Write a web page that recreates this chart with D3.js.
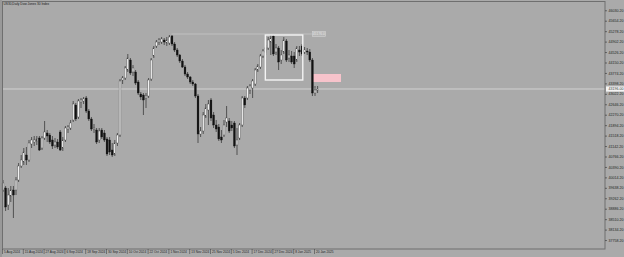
<!DOCTYPE html>
<html>
<head>
<meta charset="utf-8">
<script src="https://cdn.jsdelivr.net/npm/d3@7"></script>
<style>
  body { margin: 0; background: #aaaaaa; overflow: hidden; }
  svg { display: block; font-family: "Liberation Sans", Arial, sans-serif; }
</style>
</head>
<body>
<div id="chart"></div>
<script>
// Daily bars (index = bar number from the left)
var openPrices = [
  39560, 39632, 39020, 39344, 39560, 39560, 39920, 40424, 40568, 40820,
  40640, 41216, 41288, 41324, 41432, 41072, 41432, 41612, 41540, 41360,
  41180, 41288, 41648, 41072, 41360, 41756, 41792, 42080, 42620, 42188,
  42728, 42764, 42872, 42404, 42116, 41756, 41720, 41360, 41720, 41612,
  41396, 41360, 41000, 40856, 41252, 41540, 43520, 43592, 43880, 44240,
  43808, 43808, 43448, 43016, 42980, 42872, 42944, 43556, 44384, 44744,
  44888, 44888, 44960, 44852, 44852, 45104, 44816, 44600, 44420, 44204,
  43988, 43736, 43628, 43448, 43376, 42944, 41576, 41684, 42224, 42440,
  42800, 42260, 41900, 41828, 41468, 41540, 42008, 42044, 41900, 41972,
  41180, 41432, 41900, 42872, 42872, 43160, 43232, 43376, 43880, 43988,
  44384, 44528, 44672, 44888, 45104, 44528, 44672, 44240, 44528, 44924,
  44312, 44384, 44384, 44240, 44600, 44744, 44528, 44564, 44528, 44240,
  43052, 43160
];
var highPrices = [
  39920, 39704, 39632, 39704, 39704, 40028, 40532, 40820, 41072, 41108,
  41360, 41468, 41504, 41504, 41504, 41504, 42044, 41720, 41612, 41504,
  41432, 41396, 41720, 41468, 41864, 41900, 42080, 42764, 42692, 42836,
  42872, 42908, 42944, 42476, 42188, 41936, 41792, 41792, 41792, 41720,
  41468, 41468, 41252, 41360, 41612, 43556, 43664, 44024, 44456, 44312,
  44060, 43880, 43520, 43088, 43052, 43052, 43592, 44312, 44744, 44960,
  45032, 45068, 45032, 45068, 45140, 45140, 44888, 44672, 44456, 44276,
  44060, 43808, 43664, 43520, 43412, 43016, 41828, 42368, 42656, 42800,
  42872, 42368, 42080, 41936, 41720, 42080, 42584, 42152, 42044, 42044,
  41792, 41972, 42944, 42944, 43304, 43376, 43556, 43952, 44096, 44456,
  44636, 44780, 45068, 45140, 45140, 44816, 44744, 44600, 45068, 44996,
  44600, 44564, 44528, 44744, 44744, 44816, 44708, 44672, 44636, 44312,
  43304, 43304
];
var lowPrices = [
  39488, 38804, 38840, 39128, 38552, 39380, 39848, 40352, 40460, 40460,
  40568, 41072, 41144, 41180, 40964, 41000, 41360, 41288, 41216, 41036,
  41072, 41036, 40964, 40964, 41288, 41612, 41720, 42008, 42044, 42116,
  42512, 42656, 42332, 42044, 41684, 41612, 41216, 41252, 41396, 41288,
  40784, 40820, 40748, 40784, 41144, 41468, 43376, 43520, 43808, 43700,
  43664, 43340, 42980, 42800, 42260, 42512, 42872, 43484, 44312, 44672,
  44780, 44816, 44780, 44744, 44780, 44744, 44528, 44348, 44132, 43952,
  43664, 43556, 43376, 43304, 42872, 41252, 41468, 41576, 42152, 41900,
  42044, 41792, 41648, 41324, 41252, 41468, 41828, 41612, 41684, 41072,
  40820, 41360, 41828, 42512, 42800, 43016, 42872, 43304, 43808, 43916,
  44312, 44420, 44600, 44420, 44384, 44420, 43880, 44096, 44456, 44168,
  44168, 44096, 43952, 44168, 44384, 44384, 44456, 44420, 44168, 42944,
  42944, 43052
];
var closePrices = [
  39812, 38948, 39380, 39560, 39380, 39920, 40424, 40640, 40928, 40640,
  41252, 41360, 41360, 41396, 41000, 41432, 41648, 41504, 41288, 41144,
  41288, 41108, 41000, 41360, 41792, 41828, 41972, 42656, 42116, 42764,
  42800, 42836, 42404, 42116, 41756, 41792, 41288, 41684, 41468, 41360,
  40856, 40928, 40820, 41252, 41540, 43484, 43592, 43952, 44312, 43772,
  43952, 43412, 43052, 42908, 42800, 42944, 43520, 44240, 44672, 44888,
  44960, 44996, 44888, 44960, 45068, 44816, 44600, 44420, 44204, 43988,
  43736, 43628, 43448, 43376, 42944, 41576, 41684, 42260, 42512, 42656,
  42152, 41900, 41756, 41396, 41360, 41900, 42152, 41684, 41792, 41144,
  41360, 41900, 42872, 42620, 43232, 43304, 43484, 43880, 44024, 44384,
  44564, 44672, 44960, 45032, 44456, 44672, 44168, 44420, 44960, 44240,
  44420, 44168, 44096, 44672, 44528, 44456, 44600, 44528, 44240, 43052,
  43160, 43196
];

// Time axis labels, one every 8 bars
var timeLabels = [
  "5 Aug 2024", "15 Aug 2024", "27 Aug 2024", "6 Sep 2024", "18 Sep 2024",
  "30 Sep 2024", "10 Oct 2024", "22 Oct 2024", "1 Nov 2024", "13 Nov 2024",
  "25 Nov 2024", "5 Dec 2024", "17 Dec 2024", "27 Dec 2024", "8 Jan 2025",
  "20 Jan 2025"
];
var timeLabelStep = 8;

// Price axis labels
var priceTicks = [
  46030.2, 45654.2, 45278.2, 44902.2, 44526.2, 44150.2, 43774.2, 43398.2,
  43022.2, 42646.2, 42270.2, 41894.2, 41518.2, 41142.2, 40766.2, 40390.2,
  40014.2, 39638.2, 39262.2, 38886.2, 38510.2, 38134.2, 37758.2
];

var chartTitle = "US30,Daily  Dow Jones 30 Index";

// Objects drawn on the chart (bar numbers and prices)
var highLine = {fromBar: 64.8, toBar: 118.8, price: 45176};
var rangeBox = {fromBar: 100.9, toBar: 115.3, top: 45140, bottom: 43520};
var zone = {fromBar: 118.8, toBar: 130, top: 43736, bottom: 43448};

var width = 624,
    height = 257;
var plot = {left: 2, top: 2, right: 605, bottom: 249};

var svg = d3.select("#chart")
  .append("svg")
  .attr("width", width)
  .attr("height", height);

svg.append("rect")
  .attr("width", width)
  .attr("height", height)
  .attr("fill", "#aaaaaa");

// darker window edge on the left
svg.append("rect")
  .attr("x", 0).attr("y", 0)
  .attr("width", 2).attr("height", height)
  .attr("fill", "#999999");

var x = d3.scaleLinear()
  .domain([0, 231])
  .range([3, 603.6]);

var y = d3.scaleLinear()
  .domain([37436, 46328])
  .range([plot.bottom, plot.top]);

var bars = closePrices.map(function(c, i) {
  return {i: i, o: openPrices[i], h: highPrices[i], l: lowPrices[i], c: c};
});

// ****************** objects behind the bars ***************************

// pink zone
svg.append("rect")
  .attr("x", x(zone.fromBar))
  .attr("y", y(zone.top))
  .attr("width", x(zone.toBar) - x(zone.fromBar))
  .attr("height", y(zone.bottom) - y(zone.top))
  .attr("fill", "#f7c3cb");

// current price line
var lastPrice = closePrices[closePrices.length - 1];
svg.append("line")
  .attr("x1", plot.left).attr("x2", plot.right)
  .attr("y1", y(lastPrice)).attr("y2", y(lastPrice))
  .attr("stroke", "#d6d6d6")
  .attr("stroke-width", 0.9);

// high line with its price label
svg.append("line")
  .attr("x1", x(highLine.fromBar)).attr("x2", x(highLine.toBar))
  .attr("y1", y(highLine.price)).attr("y2", y(highLine.price))
  .attr("stroke", "#c6c6c6")
  .attr("stroke-width", 0.8);

svg.append("rect")
  .attr("x", x(highLine.toBar) + 0.5)
  .attr("y", y(highLine.price) - 2.6)
  .attr("width", 13)
  .attr("height", 5)
  .attr("fill", "#b6b6b6")
  .attr("stroke", "#d4d4d4")
  .attr("stroke-width", 0.6);

svg.append("text")
  .attr("x", x(highLine.toBar) + 7)
  .attr("y", y(highLine.price) + 1.3)
  .attr("text-anchor", "middle")
  .attr("font-size", 3.4)
  .attr("fill", "#e6e6e6")
  .text(highLine.price.toFixed(1));

// ****************** candles ***************************

var candle = svg.append("g").selectAll("g")
  .data(bars)
  .enter().append("g");

candle.append("line")
  .attr("x1", function(d) { return x(d.i); })
  .attr("x2", function(d) { return x(d.i); })
  .attr("y1", function(d) { return y(d.h); })
  .attr("y2", function(d) { return y(d.l); })
  .attr("stroke", "#2b2b2b")
  .attr("stroke-width", 0.7);

candle.append("rect")
  .attr("x", function(d) { return x(d.i) - 0.9; })
  .attr("width", 1.8)
  .attr("y", function(d) { return y(Math.max(d.o, d.c)); })
  .attr("height", function(d) { return Math.max(0.7, Math.abs(y(d.o) - y(d.c))); })
  .attr("fill", function(d) { return d.c >= d.o ? "#f2f2f2" : "#111111"; })
  .attr("stroke", function(d) { return d.c >= d.o ? "#3a3a3a" : "#111111"; })
  .attr("stroke-width", 0.35);

// white range box
svg.append("rect")
  .attr("x", x(rangeBox.fromBar))
  .attr("y", y(rangeBox.top))
  .attr("width", x(rangeBox.toBar) - x(rangeBox.fromBar))
  .attr("height", y(rangeBox.bottom) - y(rangeBox.top))
  .attr("fill", "none")
  .attr("stroke", "#f4f4f4")
  .attr("stroke-width", 1.4);

// ****************** frame and axes ***************************

svg.append("rect")
  .attr("x", plot.left + 0.5)
  .attr("y", plot.top - 0.5)
  .attr("width", plot.right - plot.left - 0.5)
  .attr("height", plot.bottom - plot.top + 0.5)
  .attr("fill", "none")
  .attr("stroke", "#6f6f6f")
  .attr("stroke-width", 1);

svg.append("text")
  .attr("x", 3.5)
  .attr("y", 5.4)
  .attr("font-size", 3.2)
  .attr("fill", "#1a1a1a")
  .text(chartTitle);

var yAxis = svg.append("g")
  .attr("transform", "translate(" + plot.right + ",0)")
  .call(d3.axisRight(y)
    .tickValues(priceTicks)
    .tickSize(2)
    .tickPadding(1.5)
    .tickFormat(d3.format(".2f")));

yAxis.select(".domain").remove();
yAxis.selectAll("line").attr("stroke", "#333333").attr("stroke-width", 0.6);
yAxis.selectAll("text")
  .attr("font-size", 3.6)
  .attr("fill", "#1f1f1f");

// current price label on the price axis
svg.append("rect")
  .attr("x", plot.right + 1)
  .attr("y", y(lastPrice) - 2.6)
  .attr("width", 18)
  .attr("height", 5.2)
  .attr("fill", "#f4f4f4");

svg.append("text")
  .attr("x", plot.right + 3.5)
  .attr("y", y(lastPrice) + 1.3)
  .attr("font-size", 3.6)
  .attr("fill", "#333333")
  .text(lastPrice.toFixed(2));

var xAxis = svg.append("g")
  .attr("transform", "translate(0," + plot.bottom + ")")
  .call(d3.axisBottom(x)
    .tickValues(timeLabels.map(function(t, k) { return k * timeLabelStep; }))
    .tickSize(5)
    .tickFormat(function(d) { return timeLabels[d / timeLabelStep]; }));

xAxis.select(".domain").remove();
xAxis.selectAll("line")
  .attr("transform", "translate(-1,0)")
  .attr("stroke", "#333333")
  .attr("stroke-width", 0.5);
xAxis.selectAll("text")
  .attr("text-anchor", "start")
  .attr("x", 0.5)
  .attr("y", 2.2)
  .attr("dy", "0.71em")
  .attr("font-size", 3.2)
  .attr("fill", "#1f1f1f");
</script>
</body>
</html>
